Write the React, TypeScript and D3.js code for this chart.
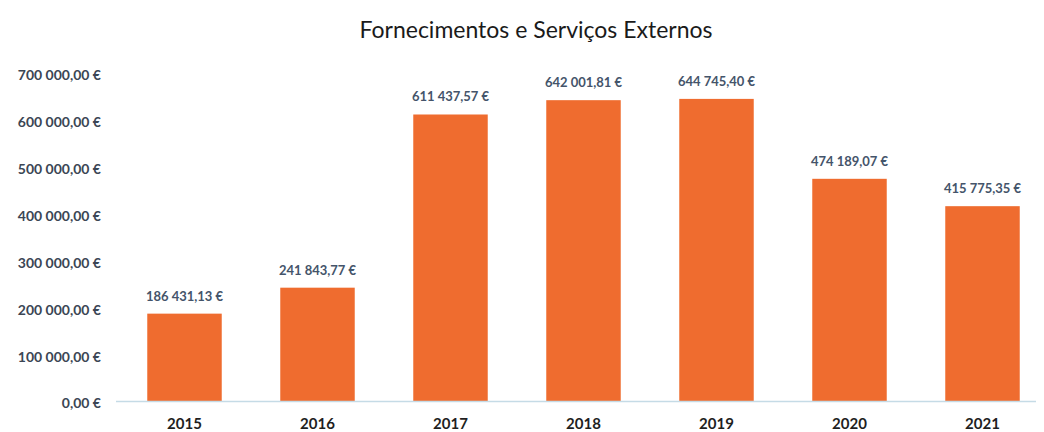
import { useEffect, useRef } from "react"
import * as d3 from "d3"

const years = ["2015", "2016", "2017", "2018", "2019", "2020", "2021"]
const values = [186431.13, 241843.77, 611437.57, 642001.81, 644745.4, 474189.07, 415775.35]
const yTicks = [0, 100000, 200000, 300000, 400000, 500000, 600000, 700000]

const W = 1044
const H = 432
const FONT = "Lato, 'Open Sans', sans-serif"

// 186431.13 -> "186 431,13 €"
const euro = (v: number) => {
  const [int, dec] = v.toFixed(2).split(".")
  return int.replace(/\B(?=(\d{3})+(?!\d))/g, " ") + "," + dec + " €"
}

const App = () => {
  const ref = useRef<SVGSVGElement>(null)

  useEffect(() => {
    if (!ref.current) return
    const svg = d3.select(ref.current)
    svg.selectAll("*").remove()

    const x = d3.scaleBand().domain(years).range([118, 1049]).paddingInner(0.44).paddingOuter(0.22)
    const y = d3.scaleLinear().domain([0, 700000]).range([401, 73])

    svg
      .append("text")
      .attr("x", 536)
      .attr("y", 38)
      .attr("text-anchor", "middle")
      .attr("font-family", FONT)
      .attr("font-size", 23)
      .attr("fill", "#1a1a1a")
      .text("Fornecimentos e Serviços Externos")

    svg
      .append("g")
      .selectAll("text")
      .data(yTicks)
      .join("text")
      .attr("x", 101)
      .attr("y", (d) => y(d) + 2.5)
      .attr("dy", "0.35em")
      .attr("text-anchor", "end")
      .attr("font-family", FONT)
      .attr("font-weight", 700)
      .attr("font-size", 14)
      .attr("fill", "#3b4654")
      .text((d) => euro(d))

    svg
      .append("g")
      .selectAll("rect")
      .data(values)
      .join("rect")
      .attr("x", (_, i) => x(years[i])!)
      .attr("y", (d) => y(d))
      .attr("width", x.bandwidth())
      .attr("height", (d) => y(0) - y(d))
      .attr("fill", "#ef6c2f")

    svg
      .append("line")
      .attr("x1", 116)
      .attr("x2", 1036)
      .attr("y1", y(0) + 0.5)
      .attr("y2", y(0) + 0.5)
      .attr("stroke", "#c5dbe6")
      .attr("stroke-width", 1.5)

    svg
      .append("g")
      .selectAll("text")
      .data(values)
      .join("text")
      .attr("x", (_, i) => x(years[i])! + x.bandwidth() / 2)
      .attr("y", (d) => y(d) - 13)
      .attr("text-anchor", "middle")
      .attr("font-family", FONT)
      .attr("font-weight", 700)
      .attr("font-size", 13)
      .attr("fill", "#44546a")
      .text((d) => euro(d))

    svg
      .append("g")
      .selectAll("text")
      .data(years)
      .join("text")
      .attr("x", (d) => x(d)! + x.bandwidth() / 2)
      .attr("y", 429)
      .attr("text-anchor", "middle")
      .attr("font-family", FONT)
      .attr("font-weight", 700)
      .attr("font-size", 15)
      .attr("fill", "#1f1f1f")
      .text((d) => d)
  }, [])

  return (
    <svg
      ref={ref}
      width={W}
      height={H}
      style={{ position: "absolute", left: 0, top: 0, background: "#fff" }}
    />
  )
}

export default App
